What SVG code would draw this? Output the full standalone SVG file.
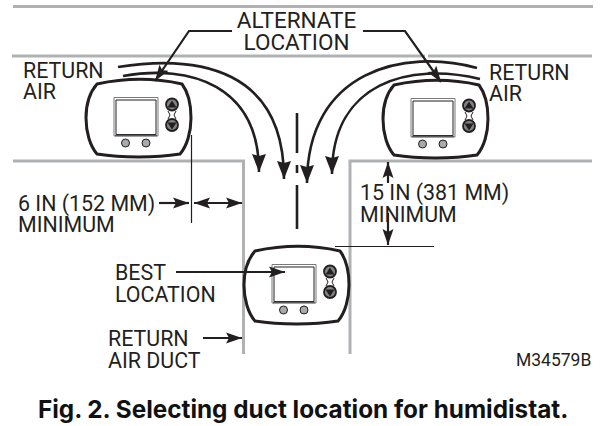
<svg xmlns="http://www.w3.org/2000/svg" width="600" height="426" viewBox="0 0 600 426">
<style>
.duct{fill:none;stroke:#b0b1b3;stroke-width:3}
.t{font-family:Roboto,"Liberation Sans",sans-serif;font-size:21.4px;fill:#231f20}
.a{stroke:#231f20;stroke-width:2.2;fill:none}
.th{stroke:#231f20;stroke-width:1.2;fill:none}
.c{stroke:#231f20;stroke-width:2.6;fill:none}
</style>
<defs>
<marker id="ah" markerUnits="userSpaceOnUse" markerWidth="18" markerHeight="12" refX="16" refY="6" orient="auto-start-reverse"><path d="M0 .5L16 6L0 11.500L3 6Z" fill="#231f20"/></marker>
<marker id="ab" markerUnits="userSpaceOnUse" markerWidth="19" markerHeight="14" refX="18" refY="7" orient="auto"><path d="M0 0L18 7L0 14L2 7Z" fill="#231f20"/></marker>
<g id="stat">
<path d="M97 84C125 78 155 78 182 84C188 92 191 105 191 118C191 132 187 146 180 154C155 158 122 158 97 154C90 146 86 132 86 118C86 105 90 92 97 84Z" fill="#fff" stroke="#231f20" stroke-width="3"/>
<path d="M114 97.500H158V136H114Z" fill="#fff" stroke="#77787b" stroke-width="1"/>
<path d="M116 100H156V134.500H116Z" fill="#fff" stroke="#231f20" stroke-width="1"/>
<path d="M115 135.500H157" stroke="#58595b" stroke-width="1.500"/>
<path d="M168 111L170 115L168 119M176 111L174 115L176 119" fill="none" stroke="#231f20" stroke-width="1"/>
<circle cx="172" cy="104.500" r="6" fill="#808285" stroke="#231f20" stroke-width="1.800"/>
<circle cx="172" cy="125" r="6" fill="#808285" stroke="#231f20" stroke-width="1.800"/>
<path d="M172 100.500L176.500 107.500H167.500Z" fill="#231f20"/>
<path d="M172 129.500L176.500 122.500H167.500Z" fill="#231f20"/>
<circle cx="125.500" cy="143" r="4" fill="#a7a9ac" stroke="#231f20"/>
<circle cx="146" cy="143" r="4" fill="#a7a9ac" stroke="#231f20"/>
</g>
</defs>
<rect width="600" height="426" fill="#fff"/>
<g id="ducts">
<path class="duct" d="M13 6.500H593"/>
<path class="duct" d="M12 56H425M428 56H592"/>
<path class="duct" d="M13 161H243.500V354"/>
<path class="duct" d="M592 161H350V354"/>
</g>
<g id="thermostat-left"><use href="#stat"/></g>
<g id="thermostat-right"><use href="#stat" x="297" y="1"/></g>
<g id="thermostat-best"><use href="#stat" x="158" y="167"/></g>
<g id="connectors">
<path class="c" d="M297 113V153M297 165V173M297 185V229"/>
<path class="c" d="M118 67C200 54 284 70 284 179" marker-end="url(#ab)"/>
<path class="c" d="M123 76C190 64 259 85 259 172" marker-end="url(#ab)"/>
<path class="c" d="M477 68C405 48 307 70 307 183" marker-end="url(#ab)"/>
<path class="c" d="M480 79C410 62 332 82 332 174" marker-end="url(#ab)"/>
<path class="a" d="M232 31H189L155 81" marker-end="url(#ah)"/>
<path class="a" d="M363 31H405L441 82" marker-end="url(#ah)"/>
<path class="th" d="M191.500 135V223"/>
<path class="th" d="M335 246.500H434"/>
<path class="a" d="M159 203H189" marker-end="url(#ah)"/>
<path class="a" d="M194 203H242" marker-start="url(#ah)" marker-end="url(#ah)"/>
<path class="a" d="M388 183V162" marker-end="url(#ah)"/>
<path class="a" d="M388 213V245" marker-end="url(#ah)"/>
<path class="a" d="M176 272H285" marker-end="url(#ah)"/>
<path class="a" d="M203 338H242" marker-end="url(#ah)"/>
</g>
<g id="labels">
<text class="t" x="296.500" y="28" text-anchor="middle" style="font-size:22.500px">ALTERNATE</text>
<text class="t" x="296.500" y="50" text-anchor="middle" style="font-size:22.500px">LOCATION</text>
<text class="t" x="23" y="78">RETURN</text>
<text class="t" x="23" y="99">AIR</text>
<text class="t" x="489" y="80">RETURN</text>
<text class="t" x="489" y="101">AIR</text>
<text class="t" x="18" y="211">6 IN (152 MM)</text>
<text class="t" x="18" y="232">MINIMUM</text>
<text class="t" x="360" y="200">15 IN (381 MM)</text>
<text class="t" x="360" y="222">MINIMUM</text>
<text class="t" x="115" y="280">BEST</text>
<text class="t" x="115" y="302">LOCATION</text>
<text class="t" x="108" y="346">RETURN</text>
<text class="t" x="108" y="368">AIR DUCT</text>
<text class="t" x="516" y="366" style="font-size:17.500px">M34579B</text>
<text x="38" y="418" style="font-family:Inter,'Liberation Sans',sans-serif;font-weight:700;font-size:24.300px;fill:#111">Fig. 2. Selecting duct location for humidistat.</text>
</g>
</svg>
